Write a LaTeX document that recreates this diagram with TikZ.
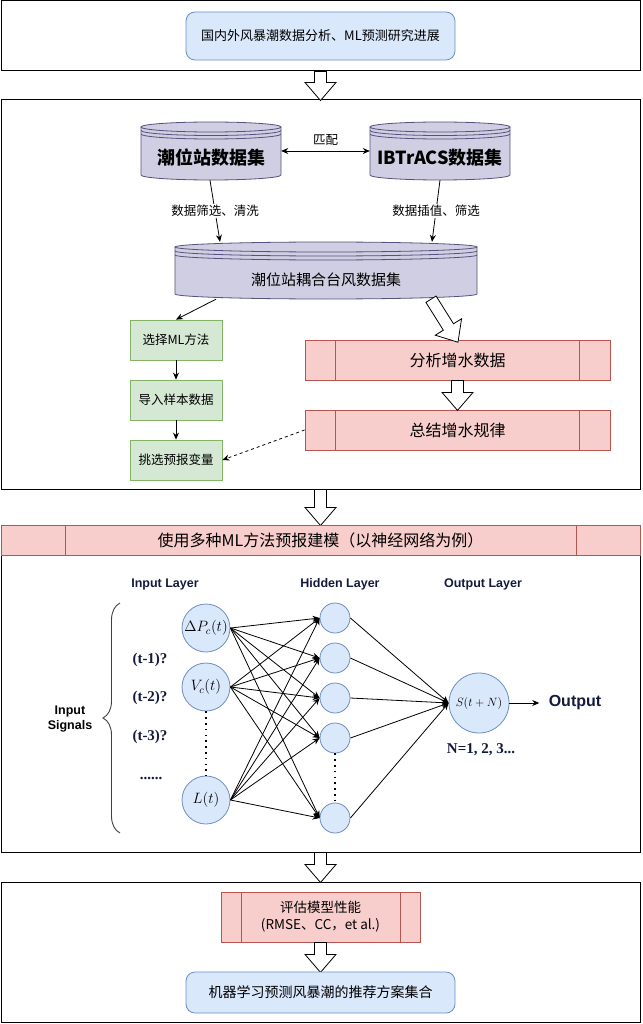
\documentclass[tikz,border=0pt]{standalone}
\usepackage{fix-cm}
\usepackage{fontspec}
\setmainfont{Liberation Sans}
\newfontfamily\cjk{Noto Sans CJK SC}
\newfontfamily\tnr{Liberation Serif}
\usetikzlibrary{arrows.meta,calc,decorations.pathreplacing}
\definecolor{bluefill}{HTML}{DAE8FC}
\definecolor{blueline}{HTML}{6C8EBF}
\definecolor{greenfill}{HTML}{D5E8D4}
\definecolor{greenline}{HTML}{82B366}
\definecolor{redfill}{HTML}{F8CECC}
\definecolor{redline}{HTML}{B85450}
\definecolor{cylfill}{HTML}{D0CEE2}
\definecolor{cylline}{HTML}{56517E}
\definecolor{navy}{HTML}{141A3C}
\tikzset{
 frame/.style={draw=black, line width=1pt, minimum width=639pt, inner sep=0pt},
 bluebox/.style={draw=blueline, fill=bluefill, rounded corners=9pt, line width=0.8pt, align=center, inner sep=0pt},
 greenbox/.style={draw=greenline, fill=greenfill, line width=0.8pt, minimum width=92pt, minimum height=40pt, inner sep=0pt, font=\cjk\fontsize{12.5}{15}\selectfont},
 procbox/.style={draw=redline, fill=redfill, line width=0.8pt, align=center, inner sep=0pt, path picture={
   \draw[redline, line width=0.8pt]
   ($(path picture bounding box.north west)!0.1!(path picture bounding box.north east)$) -- ($(path picture bounding box.south west)!0.1!(path picture bounding box.south east)$)
   ($(path picture bounding box.north west)!0.9!(path picture bounding box.north east)$) -- ($(path picture bounding box.south west)!0.9!(path picture bounding box.south east)$);}},
 neuron/.style={circle, draw=blueline, fill=bluefill, line width=0.8pt, inner sep=0pt},
 conn/.style={-{Stealth[length=7pt,width=6pt]}, line width=0.8pt},
 hollow/.style={draw=black, fill=white, line width=0.8pt, line join=miter},
 pics/harrow/.style={code={\draw[hollow] (0pt,-6pt) -- ({#1*1pt-18pt},-6pt) -- ({#1*1pt-18pt},-15.5pt) -- ({#1*1pt},0pt) -- ({#1*1pt-18pt},15.5pt) -- ({#1*1pt-18pt},6pt) -- (0pt,6pt) -- cycle;}},
 navylabel/.style={text=navy, font=\bfseries\fontsize{12.5}{14}\selectfont},
 serifnavy/.style={text=navy, font=\tnr\bfseries\fontsize{15}{17}\selectfont},
 edgelabel/.style={fill=white, inner sep=1.5pt, font=\cjk\fontsize{12.5}{14}\selectfont},
}
\newcommand\drawcyl[6]{%
 \fill[cylfill] (#1-#4,#2+#5) -- (#1-#4,#3-#5) arc[start angle=180,end angle=360,x radius=#4pt,y radius=#5pt] -- (#1+#4,#2+#5) arc[start angle=0,end angle=180,x radius=#4pt,y radius=#5pt] -- cycle;
 \draw[cylline,line width=0.8pt] (#1-#4,#2+#5) -- (#1-#4,#3-#5) arc[start angle=180,end angle=360,x radius=#4pt,y radius=#5pt] -- (#1+#4,#2+#5);
 \draw[cylline,line width=0.8pt] (#1,#2+#5) ellipse[x radius=#4pt,y radius=#5pt];
 \draw[cylline,line width=0.8pt] (#1-#4,#2+#5+#6) arc[start angle=180,end angle=360,x radius=#4pt,y radius=#5pt];
 \draw[cylline,line width=0.8pt] (#1-#4,#2+#5+2*#6) arc[start angle=180,end angle=360,x radius=#4pt,y radius=#5pt];
}
\begin{document}
\begin{tikzpicture}[x=1pt,y=-1pt]
\useasboundingbox (0,0) rectangle (642,1024);

% frames
\node[frame, minimum height=70pt] (f1) at (320.5,36) {};
\node[frame, minimum height=389pt] (f2) at (320.5,294.5) {};
\node[frame, minimum height=327pt] (f3) at (320.5,688.5) {};
\node[frame, minimum height=140pt] (f4) at (320.5,952) {};

% section 1
\node[bluebox, minimum width=269pt, minimum height=48pt, font=\cjk\fontsize{13}{15}\selectfont] (top) at (320.5,36) {国内外风暴潮数据分析、ML预测研究进展};
\pic[rotate=-90] at (f1.south) {harrow=29};

% section 2: datastores
\drawcyl{211}{122}{180}{70}{5}{3.5}
\drawcyl{440}{122}{180}{70}{5}{3.5}
\drawcyl{326}{242}{299}{151}{5}{4}
\node[inner sep=0pt, minimum width=140pt, minimum height=58pt] (cylA) at (211,151) {};
\node[inner sep=0pt, minimum width=140pt, minimum height=58pt] (cylB) at (440,151) {};
\node[inner sep=0pt, minimum width=302pt, minimum height=57pt] (cylC) at (326,270.5) {};
\node[font=\cjk\bfseries\fontsize{18}{20}\selectfont] (tA) at (211,158) {潮位站数据集};
\node[font=\cjk\bfseries\fontsize{18}{20}\selectfont] (tB) at (440,158) {IBTrACS数据集};
\node[font=\cjk\fontsize{15}{17}\selectfont] (tC) at (326,280) {潮位站耦合台风数据集};

\draw[{Stealth[length=7pt,width=6pt]}-{Stealth[length=7pt,width=6pt]}, line width=0.8pt] (cylA.east) -- node[above=2pt, font=\cjk\fontsize{12.5}{14}\selectfont] {匹配} (cylB.west);
\draw[conn] ([xshift=-1pt]cylA.south) -- node[edgelabel] {数据筛选、清洗} ([xshift=-106pt]cylC.north);
\draw[conn] (cylB.south) -- node[edgelabel] {数据插值、筛选} ([xshift=106pt]cylC.north);

% green boxes
\node[greenbox] (g1) at (176,340) {选择ML方法};
\node[greenbox] (g2) at (176,400) {导入样本数据};
\node[greenbox] (g3) at (176,460) {挑选预报变量};
\draw[conn] ([xshift=-110pt]cylC.south) -- (g1.north);
\draw[conn] (g1.south) -- (g2.north);
\draw[conn] (g2.south) -- (g3.north);

% red boxes
\node[procbox, minimum width=305pt, minimum height=40pt, font=\cjk\fontsize{16}{18}\selectfont] (p1) at (457.5,360) {分析增水数据};
\node[procbox, minimum width=305pt, minimum height=40pt, font=\cjk\fontsize{16}{18}\selectfont] (p2) at (457.5,430) {总结增水规律};
\coordinate (dstart) at ([xshift=105pt]cylC.south);
\pic[rotate=-57.9] at (dstart) {harrow=50.8};
\pic[rotate=-90] at (p1.south) {harrow=30};
\draw[conn, dashed] (p2.west) -- (g3.east);

\pic[rotate=-90] at (f2.south) {harrow=36};

% section 3
\node[procbox, minimum width=639pt, minimum height=30pt, font=\cjk\fontsize{16}{18}\selectfont] (title) at (320.5,540) {使用多种ML方法预报建模（以神经网络为例）};

\node[navylabel] at (165,584) {Input Layer};
\node[navylabel] at (340,584) {Hidden Layer};
\node[navylabel] at (483,584) {Output Layer};

\node[neuron, minimum size=48pt] (i1) at (206,628) {\fontsize{15}{15}\selectfont $\Delta P_c(t)$};
\node[neuron, minimum size=48pt] (i2) at (206,687) {\fontsize{15}{15}\selectfont $V_c(t)$};
\node[neuron, minimum size=48pt] (i3) at (206,800) {\fontsize{15}{15}\selectfont $L(t)$};

\node[neuron, minimum size=30pt] (h1) at (335,618) {};
\node[neuron, minimum size=30pt] (h2) at (335,658) {};
\node[neuron, minimum size=30pt] (h3) at (335,698) {};
\node[neuron, minimum size=30pt] (h4) at (335,738) {};
\node[neuron, minimum size=30pt] (h5) at (335,818) {};

\node[neuron, minimum size=60pt] (o) at (479,703) {\fontsize{12}{12}\selectfont $S(t+N)$};

\draw[line width=1.6pt, dash pattern=on 1.6pt off 4.2pt, line cap=butt] (i2.south) -- (i3.north);
\draw[line width=1.6pt, dash pattern=on 1.6pt off 4.2pt, line cap=butt] (h4.south) -- (h5.north);

\foreach \i in {i1,i2,i3} {
  \foreach \h in {h1,h2,h3,h4,h5} {
    \draw[conn] (\i.east) -- (\h.west);
  }
}
\foreach \h in {h1,h2,h3,h4,h5} {
  \draw[conn] (\h.east) -- (o.west);
}

\node[text=navy, font=\bfseries\fontsize{16}{18}\selectfont] (outl) at (575,703) {Output};
\draw[conn] (o.east) -- ([xshift=-6pt]outl.west);
\node[serifnavy] (nlab) at (481,750) {N=1, 2, 3...};

\node[serifnavy] (t1) at (150,660) {(t-1)?};
\node[serifnavy] (t2) at (150,698) {(t-2)?};
\node[serifnavy] (t3) at (150,737) {(t-3)?};
\node[serifnavy] (t4) at (151,778) {......};

\coordinate (braceBot) at (120,833);
\coordinate (braceTop) at (120,603);
\draw[decorate, decoration={brace, amplitude=17pt, aspect=0.5}, line width=0.9pt, black!75] (braceBot) -- (braceTop);
\node[align=center, font=\bfseries\fontsize{12.5}{15}\selectfont] (insig) at (70,719) {Input\\Signals};

\pic[rotate=-90] at (f3.south) {harrow=30};

% section 4
\node[procbox, minimum width=199pt, minimum height=50pt, font=\cjk\fontsize{13.5}{17}\selectfont] (ev) at (320.5,917) {评估模型性能\\(RMSE、CC，et al.)};
\pic[rotate=-90] at (ev.south) {harrow=30};
\node[bluebox, minimum width=269pt, minimum height=41pt, font=\cjk\fontsize{14}{16}\selectfont] (rec) at (320.5,992.5) {机器学习预测风暴潮的推荐方案集合};
\end{tikzpicture}
\end{document}
